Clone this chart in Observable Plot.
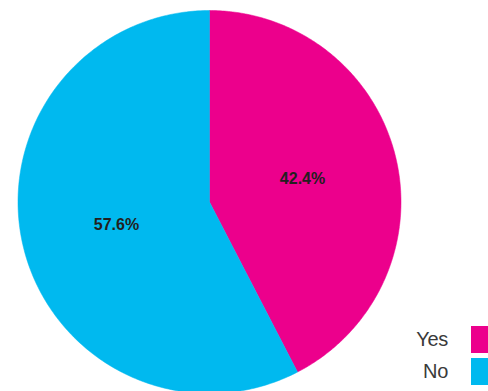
<!DOCTYPE html>
<html>
<head>
<meta charset="utf-8">
<script src="https://cdn.jsdelivr.net/npm/d3@7"></script>
<script src="https://cdn.jsdelivr.net/npm/@observablehq/plot@0.6"></script>
<style>
  html, body { margin: 0; padding: 0; background: #fff; }
  #wrap { position: relative; width: 488px; height: 391px; overflow: hidden; }
  #legend { position: absolute; left: 400px; top: 323px; font-family: "Liberation Sans", Arial, sans-serif; }
  .row { display: flex; align-items: center; height: 32px; }
  .lab { width: 48px; text-align: right; font-size: 20px; color: #3a3a3a; margin-right: 23px; letter-spacing: -0.3px; }
  .sw { width: 26px; height: 27px; }
</style>
</head>
<body>
<div id="wrap"><div id="legend"></div></div>
<script>
const categories = ["Yes", "No"];
const values = [42.4, 57.6];
const colors = ["#EC008C", "#00B9EF"];

const W = 488, H = 391;
const cx = 209, cy = 201.5, R = 191.5;

// pie geometry in unit-radius data space (angle 0 at top, clockwise)
const pie = d3.pie().sort(null).value(d => d.value)(categories.map((c, i) => ({ label: c, value: values[i] })));
const pts = [];
pie.forEach(s => {
  const n = 240;
  pts.push({ label: s.data.label, x: 0, y: 0 });
  for (let k = 0; k <= n; k++) {
    const a = s.startAngle + (s.endAngle - s.startAngle) * k / n;
    pts.push({ label: s.data.label, x: Math.sin(a), y: Math.cos(a) });
  }
  pts.push({ label: s.data.label, x: 0, y: 0 });
});
const labels = pie.map(s => {
  const a = (s.startAngle + s.endAngle) / 2;
  return { text: s.data.value.toFixed(1) + "%", x: 0.5 * Math.sin(a), y: 0.5 * Math.cos(a) };
});

const chart = Plot.plot({
  width: W, height: H,
  margin: 0,
  x: { domain: [-cx / R, (W - cx) / R], axis: null },
  y: { domain: [-(H - cy) / R, cy / R], axis: null },
  color: { domain: categories, range: colors },
  marks: [
    Plot.line(pts, { x: "x", y: "y", z: "label", fill: "label", stroke: "label", strokeWidth: 0.5, curve: "linear" }),
    Plot.text(labels, { x: "x", y: "y", text: "text", fill: "#231f20", fontSize: 16, fontWeight: "bold", fontFamily: "Liberation Sans, Arial, sans-serif" })
  ]
});
chart.style.display = "block";
document.getElementById("wrap").prepend(chart);

const legend = document.getElementById("legend");
categories.forEach((c, i) => {
  const row = document.createElement("div");
  row.className = "row";
  const lab = document.createElement("div");
  lab.className = "lab";
  lab.textContent = c;
  const sw = document.createElement("div");
  sw.className = "sw";
  sw.style.background = colors[i];
  row.appendChild(lab);
  row.appendChild(sw);
  legend.appendChild(row);
});
</script>
</body>
</html>
